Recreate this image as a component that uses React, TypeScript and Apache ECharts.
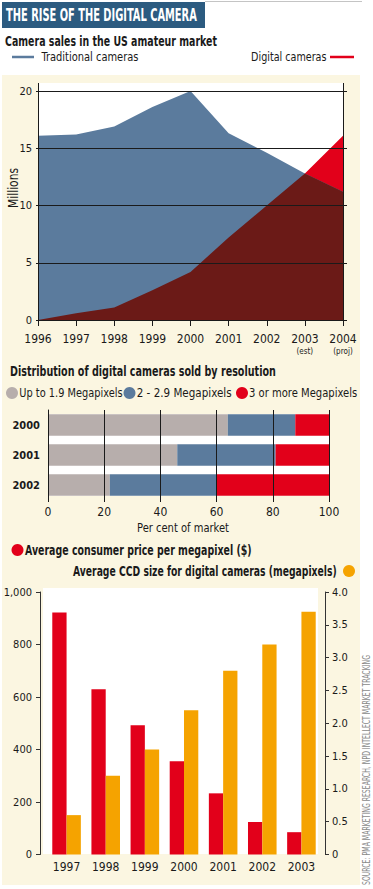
import React, { useEffect, useRef } from "react";
import * as echarts from "echarts";

const years = ["1996", "1997", "1998", "1999", "2000", "2001", "2002", "2003", "2004"];
const yearNotes: Record<string, string> = { "2003": "(est)", "2004": "(proj)" };
const traditional = [16.1, 16.2, 16.9, 18.6, 20.0, 16.3, 14.6, 12.8, 11.2];
const digital = [0, 0.6, 1.1, 2.6, 4.2, 7.2, 10.0, 12.8, 16.1];

const resYears = ["2000", "2001", "2002"];
const resLow = [64, 46, 22];
const resMid = [24, 35, 38];
const resHigh = [12, 19, 40];

const priceYears = ["1997", "1998", "1999", "2000", "2001", "2002", "2003"];
const pricePerMp = [922, 630, 492, 355, 233, 124, 85];
const ccdSize = [0.6, 1.2, 1.6, 2.2, 2.8, 3.2, 3.7];

const BLUE = "#5b7b9d";
const DARKRED = "#6b1a17";
const RED = "#e2001a";
const GREY = "#b7aeac";
const ORANGE = "#f5a300";
const CREAM = "#fbf6e1";
const INK = "#1a1a1a";

let ctx2d: CanvasRenderingContext2D | null = null;
function measure(text: string, font: string) {
  if (!ctx2d) ctx2d = document.createElement("canvas").getContext("2d");
  if (!ctx2d) return text.length * 6;
  ctx2d.font = font;
  return ctx2d.measureText(text).width;
}

function pickFont() {
  const probe = "Megapixels 1000";
  const base = measure(probe, "20px monospace");
  if (Math.abs(measure(probe, "20px 'Liberation Sans Narrow', monospace") - base) > 0.5)
    return { family: "'Liberation Sans Narrow','DejaVu Sans Condensed',sans-serif", narrow: true };
  return { family: "'DejaVu Sans Condensed','Roboto',sans-serif", narrow: false };
}

export default function App() {
  const ref = useRef<HTMLDivElement>(null);
  useEffect(() => {
    document.body.style.margin = "0";
    if (!ref.current) return;
    const { family: FONT, narrow } = pickFont();
    const d = narrow ? 0 : -1;
    const fitTxt = (x: number, y: number, text: string, width: number, o: any = {}) => {
      const font = `${o.bold ? "bold " : ""}${o.size || 12}px ${FONT}`;
      const w = measure(text, font);
      return {
        type: "text",
        x,
        y,
        z: 100,
        scaleX: w > 0 ? width / w : 1,
        rotation: o.rotation || 0,
        style: { text, fill: o.fill || INK, font, align: o.align || "left", verticalAlign: "middle" },
      };
    };
    const chart = echarts.init(ref.current, undefined, { renderer: "svg" });
    const overlap = traditional.map((t, i) => Math.min(t, digital[i]));
    const option: any = {
      animation: false,
      textStyle: { fontFamily: FONT },
      graphic: {
        elements: [
          { type: "rect", z: -10, shape: { x: 2, y: 75, width: 358, height: 810 }, style: { fill: CREAM } },
          { type: "rect", z: -9, shape: { x: 38, y: 83, width: 305, height: 237 }, style: { fill: "#fff" } },
          { type: "rect", z: -9, shape: { x: 48, y: 414, width: 281, height: 82 }, style: { fill: "#fff" } },
          { type: "rect", z: -9, shape: { x: 43, y: 588, width: 275, height: 266 }, style: { fill: "#fff" } },
          { type: "rect", z: 50, shape: { x: 2, y: 2, width: 203, height: 26 }, style: { fill: "#2c5b80" } },
          { type: "line", z: 50, shape: { x1: 205, y1: 1.5, x2: 362, y2: 1.5 }, style: { stroke: "#c4c4c4", lineWidth: 1 } },
          fitTxt(6, 15.5, "THE RISE OF THE DIGITAL CAMERA", 191, { bold: true, size: 17, fill: "#fff" }),
          fitTxt(5, 41, "Camera sales in the US amateur market", 212, { bold: true, size: 14 }),
          { type: "line", z: 50, shape: { x1: 12, y1: 57, x2: 34, y2: 57 }, style: { stroke: BLUE, lineWidth: 2.5 } },
          fitTxt(41.5, 57, "Traditional cameras", 97, { size: 13 }),
          fitTxt(326.5, 57, "Digital cameras", 75.5, { size: 13, align: "right" }),
          { type: "line", z: 50, shape: { x1: 330, y1: 57, x2: 354, y2: 57 }, style: { stroke: RED, lineWidth: 2.5 } },
          { type: "line", z: 50, shape: { x1: 38.5, y1: 83, x2: 38.5, y2: 91 }, style: { stroke: INK, lineWidth: 1 } },
          { type: "line", z: 50, shape: { x1: 343.5, y1: 83, x2: 343.5, y2: 91 }, style: { stroke: INK, lineWidth: 1 } },
          fitTxt(13, 188, "Millions", 40, { size: 14, rotation: Math.PI / 2, align: "center" }),
          fitTxt(10, 371, "Distribution of digital cameras sold by resolution", 266, { bold: true, size: 14 }),
          { type: "circle", z: 50, shape: { cx: 12, cy: 393, r: 6 }, style: { fill: GREY } },
          fitTxt(19.3, 393, "Up to 1.9 Megapixels", 103.4, { size: 13 }),
          { type: "circle", z: 50, shape: { cx: 129.5, cy: 393, r: 6 }, style: { fill: BLUE } },
          fitTxt(136.7, 393, "2 - 2.9 Megapixels", 95, { size: 13 }),
          { type: "circle", z: 50, shape: { cx: 242, cy: 393, r: 6 }, style: { fill: RED } },
          fitTxt(249, 393, "3 or more Megapixels", 108.3, { size: 13 }),
          fitTxt(183, 528, "Per cent of market", 92, { size: 13, align: "center" }),
          { type: "circle", z: 50, shape: { cx: 17.5, cy: 550, r: 6 }, style: { fill: RED } },
          fitTxt(25, 550, "Average consumer price per megapixel ($)", 226.7, { bold: true, size: 14 }),
          fitTxt(336.7, 571, "Average CCD size for digital cameras (megapixels)", 264, { bold: true, size: 14, align: "right" }),
          { type: "circle", z: 50, shape: { cx: 349, cy: 571, r: 6 }, style: { fill: ORANGE } },
          fitTxt(367, 885, "SOURCE: PMA MARKETING RESEARCH, NPD INTELLECT MARKET TRACKING", 230, {
            size: 10,
            fill: "#8a8a8a",
            rotation: Math.PI / 2,
          }),
        ],
      },
      grid: [
        { left: 38, width: 305, top: 91, height: 229, outerBoundsMode: "none", containLabel: false },
        { left: 48, width: 281, top: 410, height: 90, outerBoundsMode: "none", containLabel: false },
        { left: 47, width: 274, top: 592, height: 262.5, outerBoundsMode: "none", containLabel: false },
      ],
      xAxis: [
        {
          type: "category",
          gridIndex: 0,
          data: years,
          boundaryGap: false,
          z: 5,
          axisLine: { show: true, lineStyle: { color: INK, width: 1 } },
          axisTick: { show: true, length: 6, interval: 0, lineStyle: { color: INK } },
          axisLabel: {
            interval: 0,
            margin: 12,
            color: INK,
            fontSize: 13 + d,
            verticalAlign: "top",
            formatter: (v: string) => (yearNotes[v] ? `{y|${v}}\n{n|${yearNotes[v]}}` : `{y|${v}}`),
            rich: {
              y: { fontSize: 13 + d, color: INK, fontFamily: FONT, lineHeight: 14 },
              n: { fontSize: 8, color: INK, fontFamily: FONT, lineHeight: 10 },
            },
          },
          splitLine: { show: false },
        },
        {
          type: "value",
          gridIndex: 1,
          min: 0,
          max: 100,
          interval: 20,
          z: 5,
          axisLine: { show: false },
          axisTick: { show: true, length: 2, lineStyle: { color: INK } },
          axisLabel: { color: INK, fontSize: 13 + d, margin: 6 },
          splitLine: { show: true, lineStyle: { color: INK, width: 1 } },
        },
        {
          type: "category",
          gridIndex: 2,
          data: priceYears,
          axisLine: { show: false },
          axisTick: { show: false },
          axisLabel: { interval: 0, color: INK, fontSize: 13 + d, margin: 6 },
        },
      ],
      yAxis: [
        {
          type: "value",
          gridIndex: 0,
          min: 0,
          max: 20,
          interval: 5,
          z: 5,
          axisLine: { show: true, lineStyle: { color: INK, width: 1 } },
          axisTick: { show: true, length: 2, lineStyle: { color: INK } },
          axisLabel: { color: INK, fontSize: 12 + d, margin: 6 },
          splitLine: { show: true, lineStyle: { color: INK, width: 1 } },
        },
        {
          type: "value",
          gridIndex: 0,
          position: "right",
          min: 0,
          max: 20,
          interval: 5,
          z: 5,
          axisLine: { show: true, lineStyle: { color: INK, width: 1 } },
          axisTick: { show: true, length: 4, lineStyle: { color: INK } },
          axisLabel: { show: false },
          splitLine: { show: false },
        },
        {
          type: "category",
          gridIndex: 1,
          data: resYears,
          inverse: true,
          z: 5,
          axisLine: { show: true, lineStyle: { color: INK, width: 1 } },
          axisTick: { show: false },
          axisLabel: { color: INK, fontSize: 12 + d, fontWeight: "bold", margin: 8 },
        },
        {
          type: "value",
          gridIndex: 2,
          min: 0,
          max: 1000,
          interval: 200,
          offset: 7,
          axisLine: { show: true, lineStyle: { color: "#333", width: 1 } },
          axisTick: { show: true, length: 4, lineStyle: { color: "#333" } },
          axisLabel: { color: INK, fontSize: 12 + d, margin: 8 },
          splitLine: { show: false },
        },
        {
          type: "value",
          gridIndex: 2,
          position: "right",
          min: 0,
          max: 4,
          interval: 0.5,
          offset: 4,
          axisLine: { show: true, lineStyle: { color: "#333", width: 1 } },
          axisTick: { show: true, length: 4, lineStyle: { color: "#333" } },
          axisLabel: {
            color: INK,
            fontSize: 12 + d,
            margin: 7,
            formatter: (v: number) => (v === 0 ? "0" : v.toFixed(1)),
          },
          splitLine: { show: false },
        },
      ],
      series: [
        {
          name: "Digital cameras",
          type: "line",
          xAxisIndex: 0,
          yAxisIndex: 0,
          data: digital,
          symbol: "none",
          lineStyle: { width: 0 },
          areaStyle: { color: RED, opacity: 1 },
        },
        {
          name: "Traditional cameras",
          type: "line",
          xAxisIndex: 0,
          yAxisIndex: 0,
          data: traditional,
          symbol: "none",
          lineStyle: { width: 0 },
          areaStyle: { color: BLUE, opacity: 1 },
        },
        {
          name: "Overlap",
          type: "line",
          xAxisIndex: 0,
          yAxisIndex: 0,
          data: overlap,
          symbol: "none",
          lineStyle: { width: 0 },
          areaStyle: { color: DARKRED, opacity: 1 },
        },
        {
          name: "Up to 1.9 Megapixels",
          type: "bar",
          xAxisIndex: 1,
          yAxisIndex: 2,
          stack: "res",
          barWidth: 21.5,
          data: resLow,
          itemStyle: { color: GREY },
        },
        {
          name: "2 - 2.9 Megapixels",
          type: "bar",
          xAxisIndex: 1,
          yAxisIndex: 2,
          stack: "res",
          barWidth: 21.5,
          data: resMid,
          itemStyle: { color: BLUE },
        },
        {
          name: "3 or more Megapixels",
          type: "bar",
          xAxisIndex: 1,
          yAxisIndex: 2,
          stack: "res",
          barWidth: 21.5,
          data: resHigh,
          itemStyle: { color: RED },
        },
        {
          name: "Average consumer price per megapixel ($)",
          type: "bar",
          xAxisIndex: 2,
          yAxisIndex: 3,
          data: pricePerMp,
          barGap: "0%",
          barCategoryGap: "27%",
          itemStyle: { color: RED },
        },
        {
          name: "Average CCD size for digital cameras (megapixels)",
          type: "bar",
          xAxisIndex: 2,
          yAxisIndex: 4,
          data: ccdSize,
          barGap: "0%",
          barCategoryGap: "27%",
          itemStyle: { color: ORANGE },
        },
      ],
    };
    chart.setOption(option);
    return () => chart.dispose();
  }, []);
  return <div ref={ref} style={{ position: "absolute", left: 0, top: 0, width: 373, height: 889 }} />;
}
